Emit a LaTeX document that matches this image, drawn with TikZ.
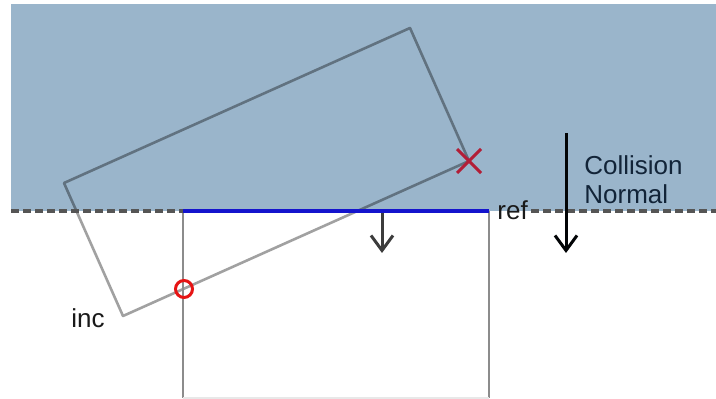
\documentclass[tikz,border=0pt]{standalone}
\usepackage{fontspec}
\setmainfont{Liberation Sans}
\usetikzlibrary{arrows.meta}
\definecolor{bgblue}{RGB}{154,181,203}
\definecolor{refblue}{RGB}{20,20,205}
\definecolor{xred}{RGB}{178,30,55}
\definecolor{cred}{RGB}{230,20,20}
\definecolor{navy}{RGB}{18,36,56}
\tikzset{
  lbl/.style={font=\fontsize{13}{15}\selectfont, inner sep=0pt, anchor=base west},
  incbox/.style={draw=black, draw opacity=0.37, line width=1.3pt, line join=round},
  sqside/.style={draw={rgb,255:red,140;green,140;blue,140}, line width=1.3pt},
  planeline/.style={draw={rgb,255:red,85;green,85;blue,85}, line width=1.7pt, dash pattern=on 4pt off 2pt},
  arr/.style={line width=1.5pt, -{Straight Barb[length=7.5pt,width=11pt,line width=1.5pt]}},
}
\begin{document}
\begin{tikzpicture}[x=0.5pt,y=-0.5pt]
\useasboundingbox (0,0) rectangle (716,399);
% incident half-space
\fill[bgblue] (11,4) rectangle (716,211);
% incident box
\coordinate (L) at (64,183);
\coordinate (T) at (410,28);
\coordinate (R) at (469,161);
\coordinate (B) at (123,316);
\draw[incbox] (L) -- (T) -- (R) -- (B) -- cycle;
% reference box
\coordinate (SQ1) at (183,211);
\coordinate (SQ2) at (489,211);
\coordinate (SQ3) at (489,398);
\coordinate (SQ4) at (183,398);
\draw[sqside] (SQ1) -- (SQ4);
\draw[sqside] (SQ2) -- (SQ3);
\draw[draw={rgb,255:red,232;green,232;blue,232}, line width=0.6pt] (SQ4) -- (SQ3);
% plane
\coordinate (P0) at (11,211);
\coordinate (P3) at (531,211);
\coordinate (P4) at (716,211);
\draw[planeline] (P0) -- (SQ1);
\draw[planeline] (P3) -- (P4);
\draw[refblue, line width=2pt] (SQ1) -- (SQ2);
% arrows
\coordinate (a1) at (382,213);
\coordinate (a2) at (382,253);
\draw[arr, draw={rgb,255:red,60;green,60;blue,60}] (a1) -- (a2);
\coordinate (n1) at (566,133);
\coordinate (n2) at (566,253);
\draw[arr, draw=black!90!navy] (n1) -- (n2);
% markers
\node[draw=cred, line width=1.5pt, circle, minimum size=8.5pt, inner sep=0pt] (clip) at (184,289) {};
\coordinate (xc) at (469,161);
\draw[xred, line width=1.5pt] ([shift={(-12,-12)}]xc) -- ([shift={(12,12)}]xc);
\draw[xred, line width=1.5pt] ([shift={(-12,12)}]xc) -- ([shift={(12,-12)}]xc);
% labels
\node[lbl, text=navy] (cn1) at (584,175) {Collision};
\node[lbl, text=navy] (cn2) at (584,204) {Normal};
\node[lbl, text=black!90] (ref) at (497,220) {ref};
\node[lbl, text=black!90] (inc) at (71,328) {inc};
\end{tikzpicture}
\end{document}
